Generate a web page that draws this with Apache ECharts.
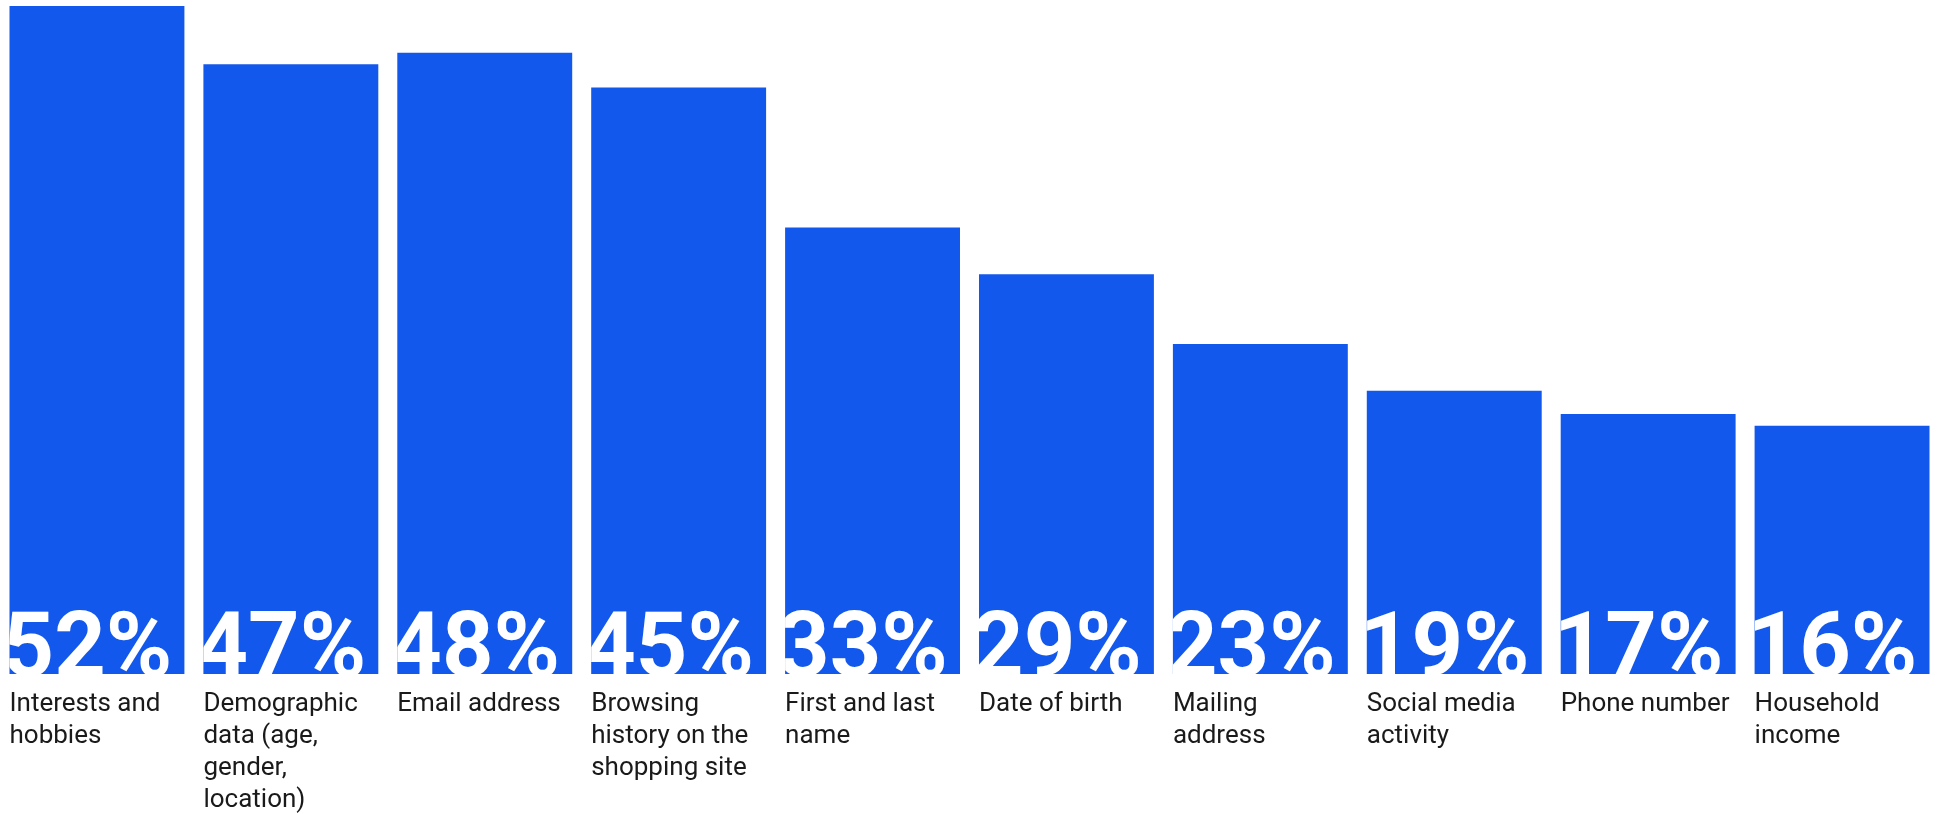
<!DOCTYPE html>
<html>
<head>
<meta charset="utf-8">
<title>Data shoppers share</title>
<script src="https://cdn.jsdelivr.net/npm/echarts@6/dist/echarts.min.js"></script>
<style>
  html, body { margin: 0; padding: 0; background: #ffffff; }
  #chart { width: 1939px; height: 814px; }
</style>
</head>
<body>
<div id="chart"></div>
<script>
// Category names (line breaks are where each name wraps under its bar)
const categories = [
  'Interests and\nhobbies',
  'Demographic\ndata (age,\ngender,\nlocation)',
  'Email address',
  'Browsing\nhistory on the\nshopping site',
  'First and last\nname',
  'Date of birth',
  'Mailing\naddress',
  'Social media\nactivity',
  'Phone number',
  'Household\nincome'
];

// Share of respondents, percent
const shares = [52, 47, 48, 45, 33, 29, 23, 19, 17, 16];

// Value axis range: bars extend a little below zero so the big labels sit inside them
const axisMin = -5.3;
const axisMax = 52;

const BLUE = '#1358ec';
const INK = '#1a1a1a';
const BAR_RATIO = 175 / 194;

// offset of the big value label from the bar's bottom-left corner
const LABEL_DX = -7;
const LABEL_DY = -21;

const chart = echarts.init(document.getElementById('chart'), null, { renderer: 'canvas' });

chart.setOption({
  backgroundColor: '#ffffff',
  animation: false,
  grid: { left: 0, top: 6, width: 1940, height: 668, containLabel: false },
  xAxis: {
    type: 'category',
    data: categories,
    show: false
  },
  yAxis: {
    type: 'value',
    min: axisMin,
    max: axisMax,
    show: false
  },
  series: [{
    type: 'custom',
    clip: false,
    data: shares.map((v, i) => [i, v]),
    encode: { x: 0, y: 1 },
    renderItem: function (params, api) {
      const idx = api.value(0);
      const val = api.value(1);
      const top = api.coord([idx, val]);
      const base = api.coord([idx, axisMin]);
      const band = api.size([1, 0])[0];
      const w = band * BAR_RATIO;
      const left = top[0] - w / 2;
      const barH = base[1] - top[1];
      return {
        type: 'group',
        children: [
          {
            type: 'rect',
            shape: { x: left, y: top[1], width: w, height: barH },
            style: { fill: BLUE }
          },
          {
            // big value label, cut off by the bar's edges
            type: 'text',
            x: left + LABEL_DX,
            y: base[1] + LABEL_DY,
            style: {
              text: val + '%',
              fill: '#ffffff',
              font: '700 90px Roboto, "DejaVu Sans", sans-serif',
              align: 'left',
              verticalAlign: 'middle'
            },
            clipPath: {
              type: 'rect',
              shape: { x: -LABEL_DX, y: -LABEL_DY - barH, width: w, height: barH }
            }
          },
          {
            type: 'text',
            x: left,
            y: base[1] + 14,
            style: {
              text: categories[idx],
              fill: INK,
              font: '400 26px Roboto, "DejaVu Sans", sans-serif',
              lineHeight: 32,
              align: 'left',
              verticalAlign: 'top'
            }
          }
        ]
      };
    }
  }]
});
</script>
</body>
</html>
